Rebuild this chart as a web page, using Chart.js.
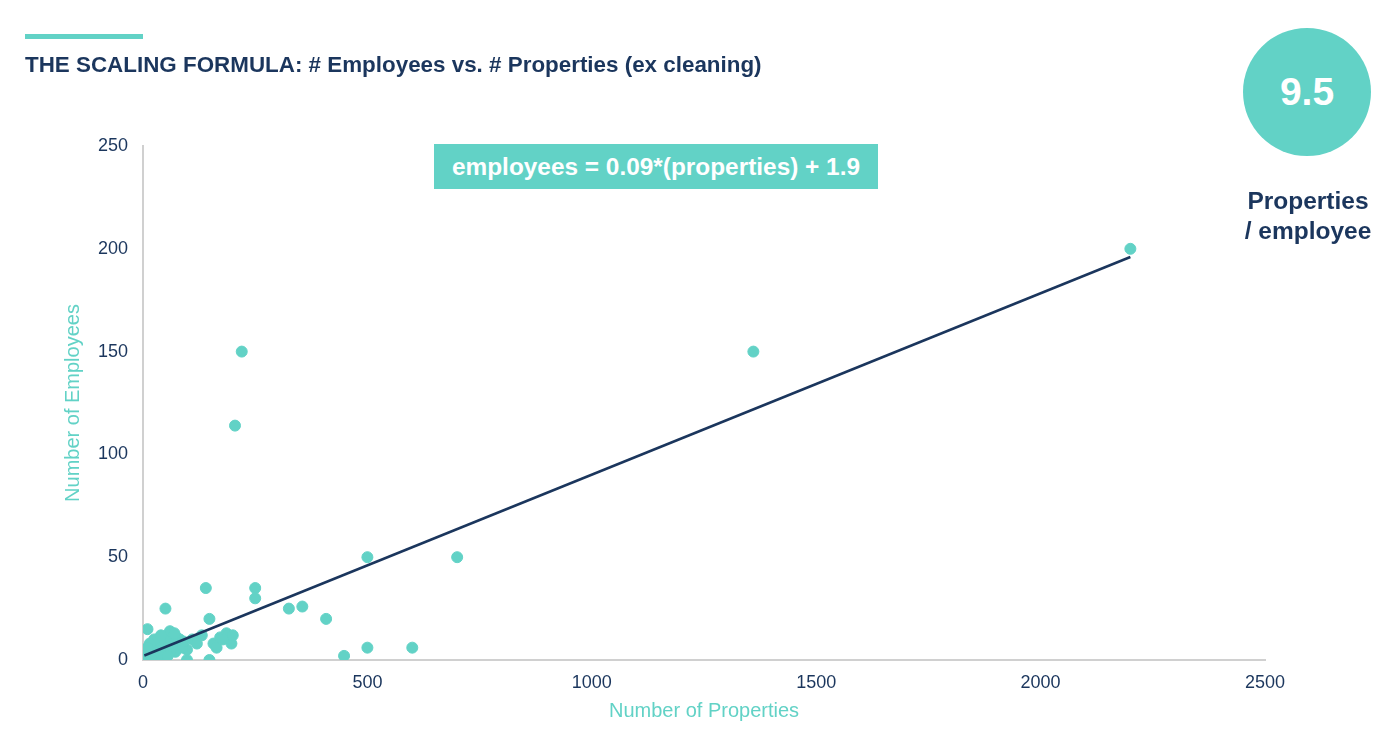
<!DOCTYPE html>
<html>
<head>
<meta charset="utf-8">
<script src="https://cdn.jsdelivr.net/npm/chart.js@4"></script>
<style>
  body { margin: 0; background: #fff; font-family: "Liberation Sans", Arial, sans-serif; }
  #wrap { position: relative; width: 1400px; height: 747px; overflow: hidden; }
  #chart { position: absolute; left: 0; top: 0; }
  .bar { position: absolute; left: 25px; top: 34px; width: 118px; height: 5px; background: #62d2c6; }
  .title { position: absolute; left: 25px; top: 52px; font-size: 22.4px; font-weight: bold; color: #1b365d; white-space: nowrap; }
  .formula { position: absolute; left: 434px; top: 144px; width: 444px; height: 45px; background: #62d2c6;
    color: #fff; font-weight: bold; font-size: 24.4px; line-height: 45px; text-align: center; }
  .circle { position: absolute; left: 1243px; top: 28px; width: 128px; height: 128px; border-radius: 50%;
    background: #62d2c6; color: #fff; font-weight: bold; font-size: 39px; line-height: 128px; text-align: center; }
  .unit { position: absolute; left: 1208px; top: 186px; width: 200px; text-align: center; color: #1b365d;
    font-weight: bold; font-size: 24.5px; line-height: 30px; }
</style>
</head>
<body>
<div id="wrap">
  <canvas id="chart" width="1400" height="747"></canvas>
  <div class="bar"></div>
  <div class="title">THE SCALING FORMULA: # Employees vs. # Properties (ex cleaning)</div>
  <div class="formula">employees = 0.09*(properties) + 1.9</div>
  <div class="circle">9.5</div>
  <div class="unit">Properties<br>/ employee</div>
</div>
<script>
// properties per company
const properties = [
  2200, 1360, 220, 205, 500, 700, 140, 250, 250, 50, 325, 355, 408, 148, 10, 448, 500, 600, 98, 148,
  186, 197, 157, 164, 172, 131, 98, 82, 190, 178, 110, 120, 200,
  0, 2, 3, 5, 5, 8, 10, 12, 15, 18, 20, 22, 25, 28, 30, 32, 35, 38, 40, 42, 45, 48, 50, 52,
  55, 58, 60, 62, 65, 68, 70, 72, 75, 78, 80, 85, 88, 90, 35, 45, 25, 15, 60, 20, 10, 40, 70, 55
];
// employees per company
const employees = [
  200, 150, 150, 114, 50, 50, 35, 35, 30, 25, 25, 26, 20, 20, 15, 2, 6, 6, 0, 0,
  13, 8, 8, 6, 11, 12, 5, 10, 12, 10, 10, 8, 12,
  0, 1, 3, 2, 0, 4, 1, 5, 3, 7, 2, 8, 5, 0, 9, 4, 10, 6, 2, 8, 11, 5, 9, 3,
  12, 7, 14, 10, 6, 12, 9, 4, 11, 7, 10, 8, 6, 9, 1, 3, 10, 8, 4, 0, 6, 12, 13, 2
];
// fitted line end points
const trendX = [3, 2200];
const trendY = [2.2, 196];

const xTicks = [0, 500, 1000, 1500, 2000, 2500];
const yTicks = [0, 50, 100, 150, 200, 250];

const teal = '#62d2c6';
const navy = '#1b365d';

new Chart(document.getElementById('chart'), {
  type: 'scatter',
  data: {
    datasets: [
      {
        label: 'Companies',
        data: properties.map((p, i) => ({ x: p, y: employees[i] })),
        backgroundColor: teal,
        borderColor: teal,
        pointRadius: 5.5,
        order: 2
      },
      {
        label: 'Trend',
        type: 'line',
        data: trendX.map((x, i) => ({ x: x, y: trendY[i] })),
        borderColor: navy,
        borderWidth: 2.5,
        pointRadius: 0,
        fill: false,
        order: 1
      }
    ]
  },
  options: {
    responsive: false,
    animation: false,
    layout: { padding: { left: 61, right: 135, top: 146, bottom: 24 } },
    plugins: { legend: { display: false }, tooltip: { enabled: false } },
    scales: {
      x: {
        type: 'linear',
        min: 0, max: 2500,
        afterBuildTicks: s => { s.ticks = xTicks.map(v => ({ value: v })); },
        afterFit: s => { s.height = 63; },
        grid: { display: false, drawTicks: false },
        border: { color: '#d0d0d0', width: 2 },
        ticks: { color: navy, font: { size: 18, family: 'Liberation Sans' }, padding: 12, callback: v => String(v) },
        title: { display: true, text: 'Number of Properties', color: teal, font: { size: 20, family: 'Liberation Sans' }, padding: 0 }
      },
      y: {
        min: 0, max: 250,
        afterBuildTicks: s => { s.ticks = yTicks.map(v => ({ value: v })); },
        afterFit: s => { s.width = 82; },
        grid: { display: false, drawTicks: false },
        border: { color: '#d0d0d0', width: 2 },
        ticks: { color: navy, font: { size: 18, family: 'Liberation Sans' }, padding: 15 },
        title: { display: true, text: 'Number of Employees', color: teal, font: { size: 20, family: 'Liberation Sans' }, padding: 0 }
      }
    }
  }
});
</script>
</body>
</html>
